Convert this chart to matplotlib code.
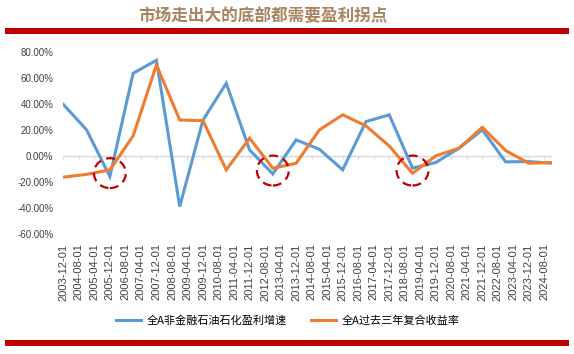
import numpy as np
import pandas as pd
import matplotlib
matplotlib.use('Agg')
import matplotlib.pyplot as plt
from matplotlib.patches import Ellipse, Rectangle

plt.rcParams['font.family'] = ['Liberation Sans', 'Noto Sans CJK SC', 'DejaVu Sans']

# annual points, one per December 2003..2024
years = list(range(2003, 2025))
profit_growth = [40.0, 20.4, -15.5, 64.0, 74.0, -38.6, 28.0, 56.3, 5.0, -13.5, 12.7,
                 5.5, -10.4, 26.8, 32.0, -9.0, -4.7, 6.3, 20.4, -4.2, -4.0, -5.3]
cagr_3y = [-16.0, -13.8, -10.4, 15.8, 70.4, 28.0, 27.5, -10.4, 14.0, -9.1, -5.3,
           20.4, 32.0, 23.5, 8.0, -13.0, 0.4, 6.3, 22.4, 4.5, -5.3, -4.7]
series_names = ['全A非金融石油石化盈利增速', '全A过去三年复合收益率']
# circled turning points: (year-end, value)
turning_points = [(2005, -12.9), (2012, -10.9), (2018, -10.9)]
title = '市场走出大的底部都需要盈利拐点'

BLUE = '#5B9BD5'
ORANGE = '#ED7D31'
RED = '#C00000'

start = pd.Timestamp('2003-12-01')
tick_dates = pd.date_range(start, periods=32, freq='8MS')
tick_pos = [(d.year - start.year) * 12 + d.month - start.month for d in tick_dates]
tick_labels = tick_dates.strftime('%Y-%m-%d')
x = np.array([(y - 2003) * 12 for y in years])

fig = plt.figure(figsize=(5.74, 3.54), dpi=100)
ax = fig.add_axes([0.1103, 0.338, 0.8517, 0.5138])

ax.plot(x, profit_growth, color=BLUE, lw=2.2, label=series_names[0], solid_joinstyle='miter')
ax.plot(x, cagr_3y, color=ORANGE, lw=2.2, label=series_names[1], solid_joinstyle='miter')

# zero axis line with small tick marks
ax.axhline(0, color='#D9D9D9', lw=1, zorder=0)
ax.vlines(tick_pos, -2.3, 0, color='#D9D9D9', lw=1, zorder=0)

for yr, val in turning_points:
    ax.add_patch(Ellipse(((yr - 2003) * 12, val), 16.4, 23, fill=False,
                         edgecolor=RED, lw=1.6, ls=(0, (4, 2.5)), zorder=5))

ax.set_xlim(0, 252)
ax.set_ylim(-60, 80)
ax.set_yticks(np.arange(-60, 81, 20))
ax.set_yticklabels([f'{v:.2f}%' for v in np.arange(-60, 81, 20)])
ax.set_xticks(tick_pos)
ax.set_xticklabels(tick_labels, rotation=90)
ax.tick_params(axis='y', length=0, pad=7, labelsize=7, labelcolor='#404040')
ax.tick_params(axis='x', length=0, pad=6.5, labelsize=8, labelcolor='#404040')
for s in ax.spines.values():
    s.set_visible(False)

fig.legend(loc='center', bbox_to_anchor=(0.501, 0.094), ncol=2, frameon=False,
           handlelength=2.3, handletextpad=0.45, columnspacing=2.2,
           prop={'family': ['Noto Sans CJK SC'], 'size': 8})

fig.text(0.458, 0.955, title, ha='center', va='center', fontsize=12,
         fontweight='bold', color='#A8845F', family=['Noto Sans CJK SC'])
fig.add_artist(Rectangle((0.009, 0.905), 0.982, 0.017, transform=fig.transFigure,
                         color=RED, lw=0))
fig.add_artist(Rectangle((0.009, 0.023), 0.982, 0.017, transform=fig.transFigure,
                         color=RED, lw=0))

fig.savefig('out.png', dpi=100)
